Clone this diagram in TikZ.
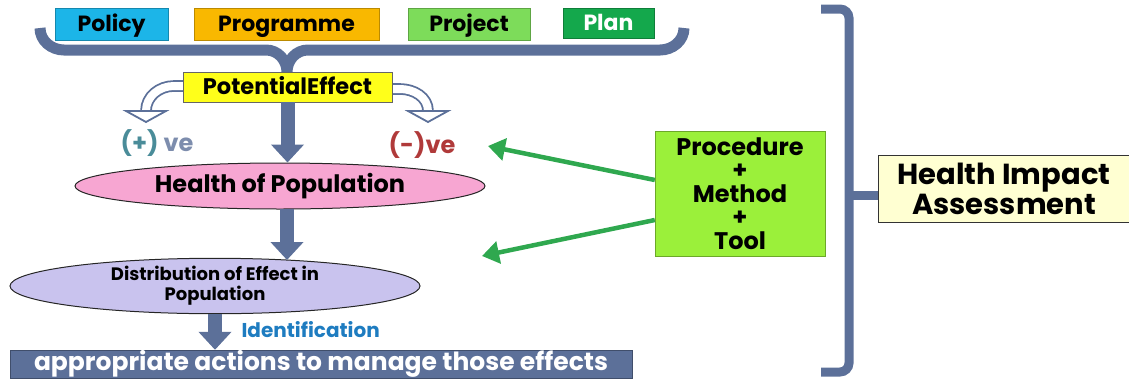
\documentclass[tikz,border=0pt]{standalone}
\usepackage{fontspec}
\setmainfont{Poppins}
\usetikzlibrary{arrows.meta,shapes.geometric,positioning}
\tikzset{>=stealth}

\definecolor{policyblue}{HTML}{1CB5E8}
\definecolor{progorange}{HTML}{F9B800}
\definecolor{projgreen}{HTML}{7DDC5A}
\definecolor{plangreen}{HTML}{14A84C}
\definecolor{slate}{HTML}{5C7099}
\definecolor{effyellow}{HTML}{FFFF1A}
\definecolor{healthpink}{HTML}{F7A6D2}
\definecolor{distlav}{HTML}{C9C3EE}
\definecolor{proclime}{HTML}{9BF03A}
\definecolor{arrgreen}{HTML}{2FA84F}
\definecolor{hiayellow}{HTML}{FFFFD2}
\definecolor{idblue}{HTML}{1E7CC0}
\definecolor{negred}{HTML}{B03A3A}
\definecolor{posteal}{HTML}{4A8C99}

\tikzset{
  topbox/.style={draw=#1!75!black, fill=#1, minimum height=32, inner sep=0pt,
    text height=16pt, text depth=2pt, font=\fontsize{22}{24}\selectfont\bfseries},
  bubble/.style={ellipse, draw=black!85, line width=1pt, fill=#1, inner sep=0pt},
  fatarrow/.style={slate, line width=14pt, -{Triangle[width=32pt,length=18pt]}},
  hollowarrow/.style={slate, line width=1.8pt, double=white, double distance=8pt},
  greenarrow/.style={arrgreen, line width=4.5pt, -{Triangle[width=22pt,length=17pt]}},
}

\begin{document}
\begin{tikzpicture}[x=1pt,y=-1pt]
\useasboundingbox (0,0) rectangle (1129,378);

% the four plan levels
\node[topbox=policyblue, minimum width=113] (policy) at (111.5,24) {Policy};
\node[topbox=progorange, minimum width=185] (programme) at (286.5,24) {Programme};
\node[topbox=projgreen, minimum width=122] (project) at (469,24) {Project};
\node[topbox=plangreen, minimum width=91, minimum height=30, text=white] (plan) at (608.5,23) {Plan};

% brace under the boxes
\coordinate (brace) at (287,72);
\draw[slate, line width=11pt]
  (40,28) to[out=-90,in=180] (64,50) -- (266,50) to[out=0,in=90] (brace)
  (684,28) to[out=-90,in=0] (660,50) -- (308,50) to[out=180,in=90] (brace);

% positive / negative branches
\coordinate (posend) at (146,111);
\coordinate (negend) at (428,111);
\draw[hollowarrow] (200,86) -- (174,86) to[out=180,in=90] (posend);
\draw[hollowarrow] (380,89) -- (400,89) to[out=0,in=90] (negend);
\foreach \tip in {posend,negend}
  \draw[slate, line width=1.8pt, fill=white, line join=miter]
    ([xshift=-20pt]\tip) -- ([xshift=20pt]\tip) -- ([yshift=-11pt]\tip) -- cycle;

\node[draw=black!60, fill=effyellow, minimum width=209, minimum height=30, inner sep=0pt,
  text height=16pt, text depth=1pt,
  font=\fontsize{22.5}{24}\selectfont\bfseries] (effect) at (287.5,87) {PotentialEffect};
\node[font=\fontsize{24}{26}\selectfont\bfseries] (pos) at (157,143)
  {\textcolor{posteal}{(+)} \textcolor{slate!80}{ve}};
\node[text=negred, font=\fontsize{24}{26}\selectfont\bfseries] (neg) at (422,145) {(-)ve};

\node[bubble=healthpink, minimum width=410, minimum height=46,
  font=\fontsize{24}{26}\selectfont\bfseries] (health) at (280,186) {Health of Population};
\node[bubble=distlav, minimum width=410, minimum height=52, align=center,
  font=\fontsize{18}{20}\selectfont\bfseries] (distrib) at (215,286)
  {Distribution of Effect in\\Population};
\node[draw=slate!70!black, fill=slate, text=white, minimum width=622, minimum height=28,
  inner sep=0pt, text height=17pt, text depth=5pt,
  font=\fontsize{25}{27}\selectfont\bfseries] (action) at (321,364)
  {appropriate actions to manage those effects};

\draw[fatarrow] (effect.south) -- (effect.south |- health.north);
\draw[fatarrow] (287,209) -- (287,260);
\draw[fatarrow] (distrib.south) -- (distrib.south |- action.north);
\node[text=idblue, anchor=west, font=\fontsize{20}{22}\selectfont\bfseries] (ident)
  at (238,330) {Identification};

% procedure, method and tool
\node[draw=proclime!70!black, fill=proclime, minimum width=170, minimum height=125,
  align=center, font=\fontsize{24}{23.5}\selectfont\bfseries] (proc) at (740,193.5)
  {Procedure\\+\\Method\\+\\Tool};
\coordinate (negarr) at (488,146);
\coordinate (distarr) at (482,256);
\draw[greenarrow] (proc.west |- 0,180) -- (negarr);
\draw[greenarrow] (proc.west |- 0,220) -- (distarr);

% bracket to the assessment
\node[draw=black!80, fill=hiayellow, minimum width=251, minimum height=67, align=center,
  font=\fontsize{29}{30}\selectfont\bfseries] (hia) at (1004,188.5)
  {Health Impact\\Assessment};
\draw[slate, line width=9pt, rounded corners=9pt] (821,9) -- (849,9) -- (849,372) -- (821,372);
\draw[slate, line width=9pt] (849,195) -- (hia.west |- 0,195);
\end{tikzpicture}
\end{document}
